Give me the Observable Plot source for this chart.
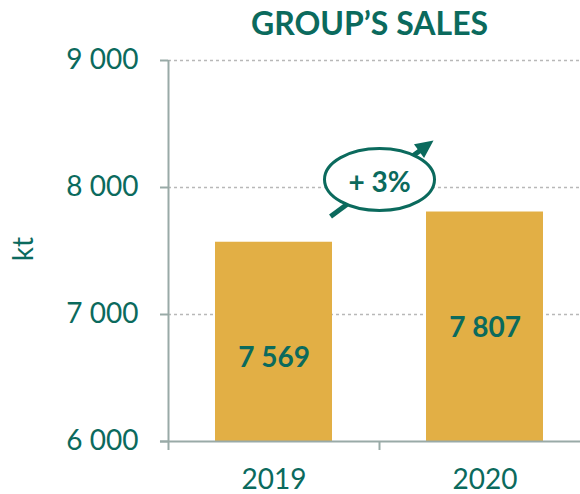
<!DOCTYPE html>
<html>
<head>
<meta charset="utf-8">
<script src="https://cdn.jsdelivr.net/npm/d3@7"></script>
<script src="https://cdn.jsdelivr.net/npm/@observablehq/plot@0.6"></script>
<style>
  html, body { margin: 0; padding: 0; background: #fff; }
  #chart svg { display: block; }
</style>
</head>
<body>
<div id="chart"></div>
<script>
// ---- data ----
const categories = ["2019", "2020"];
const values = [7569, 7807];
const yTicks = [6000, 7000, 8000, 9000];
const gridTicks = [7000, 8000, 9000];
const title = "GROUP’S SALES";
const yLabel = "kt";

// annotation (data units: x = category index space, y = kt)
const growth = Math.round((values[1] / values[0] - 1) * 100);
const annoLabel = `+ ${growth}%`;
const annoCenter = [{x: 1.0, y: 8063}];
const annoText = [{x: 1.0, y: 8039}];
const arrowShaft = [{x1: 0.768, y1: 7772, x2: 1.199, y2: 8299}];
const arrowTip = [{x: 1.256, y: 8370}];

const data = categories.map((c, i) => ({year: c, i, value: values[i]}));

const teal = "#0b6a5d";
const gold = "#e2af45";
const axisGray = "#99aaa7";
const gridGray = "#b8b8b8";
const fmt = d => d3.format(",")(d).replace(/,/g, " ");

const ellipse = {
  draw(ctx) {
    const rx = 55, ry = 31, k = 0.5523;
    ctx.moveTo(rx, 0);
    ctx.bezierCurveTo(rx, ry * k, rx * k, ry, 0, ry);
    ctx.bezierCurveTo(-rx * k, ry, -rx, ry * k, -rx, 0);
    ctx.bezierCurveTo(-rx, -ry * k, -rx * k, -ry, 0, -ry);
    ctx.bezierCurveTo(rx * k, -ry, rx, -ry * k, rx, 0);
    ctx.closePath();
  }
};
const head = {
  draw(ctx) {
    ctx.moveTo(0, 0);
    ctx.lineTo(8.5, 18);
    ctx.lineTo(-8.5, 18);
    ctx.closePath();
  }
};

const chart = Plot.plot({
  width: 580,
  height: 494,
  marginLeft: 168,
  marginRight: 0,
  marginTop: 60,
  marginBottom: 53,
  style: {fontFamily: "Lato, 'Open Sans', sans-serif", background: "#fff", color: teal},
  x: {domain: [0, 2], range: [168, 590], axis: null},
  y: {domain: [6000, 9000], range: [441, 60], axis: null},
  marks: [
    Plot.ruleY(gridTicks, {stroke: gridGray, strokeWidth: 1.5, strokeDasharray: "3,3"}),
    Plot.rectY(data, {x1: d => d.i, x2: d => d.i + 1, y1: 6000, y2: "value", fill: gold, insetLeft: 47, insetRight: 47}),
    // axes lines
    Plot.ruleY([6000], {x1: -0.038, x2: 2, stroke: axisGray, strokeWidth: 2}),
    Plot.ruleX([0, 1], {y1: 5929, y2: d => d === 0 ? 9000 : 6000, stroke: axisGray, strokeWidth: 2}),
    Plot.axisY({ticks: yTicks, tickSize: 8, tickPadding: 22, tickFormat: fmt, fontSize: 28, stroke: axisGray, strokeWidth: 2, fill: teal, label: null}),
    // x labels
    Plot.text(data, {x: d => d.i + 0.5, frameAnchor: "bottom", lineAnchor: "middle", dy: 39, text: "year", fontSize: 28, fill: teal}),
    // y label
    Plot.text([yLabel], {frameAnchor: "left", textAnchor: "middle", lineAnchor: "middle", dx: -144, dy: -2, rotate: -90, fontSize: 28, fill: teal}),
    // title
    Plot.text([title], {frameAnchor: "top", lineAnchor: "middle", dx: -5, dy: -36, fontSize: 32, fontWeight: "bold", fill: teal}),
    // bar value labels
    Plot.text(data, {x: d => d.i + 0.5, y: "value", dy: 116, text: d => fmt(d.value), fontSize: 28, fontWeight: "bold", fill: teal}),
    // annotation
    Plot.link(arrowShaft, {x1: "x1", y1: "y1", x2: "x2", y2: "y2", stroke: teal, strokeWidth: 5}),
    Plot.dot(arrowTip, {x: "x", y: "y", symbol: head, rotate: 53.6, fill: teal, stroke: "none", r: 10}),
    Plot.dot(annoCenter, {x: "x", y: "y", symbol: ellipse, fill: "#fff", stroke: teal, strokeWidth: 3, r: 10}),
    Plot.text(annoText, {x: "x", y: "y", text: () => annoLabel, fontSize: 28, fontWeight: "bold", fill: teal})
  ]
});
document.getElementById("chart").append(chart);
</script>
</body>
</html>
